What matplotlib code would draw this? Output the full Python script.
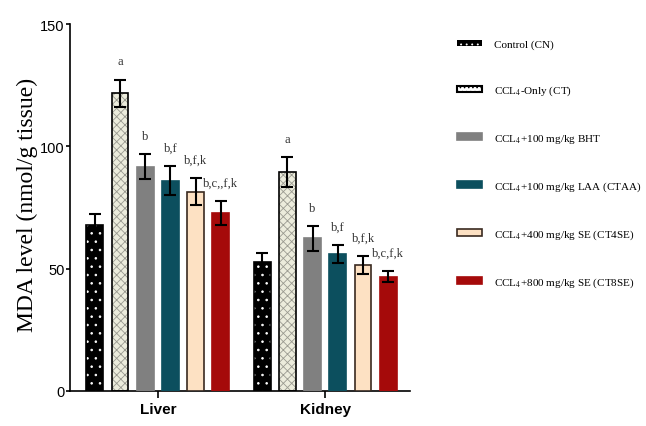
import matplotlib
matplotlib.use('Agg')
import matplotlib.pyplot as plt
import matplotlib.patches as mpatches
import numpy as np

plt.rcParams['mathtext.fontset'] = 'stix'
plt.rcParams['hatch.linewidth'] = 0.6

organs = ['Liver', 'Kidney']
groups = ['Control (CN)', 'CCL$_4$-Only (CT)', 'CCL$_4$+100 mg/kg BHT',
          'CCL$_4$+100 mg/kg LAA (CTAA)', 'CCL$_4$+400 mg/kg SE (CT4SE)',
          'CCL$_4$+800 mg/kg SE (CT8SE)']
liver = [67.8, 121.7, 91.8, 86.0, 81.5, 72.7]
liver_err = [4.5, 5.6, 5.2, 6.0, 5.5, 5.0]
kidney = [52.8, 89.5, 62.4, 56.0, 51.5, 46.7]
kidney_err = [3.5, 6.0, 5.0, 3.7, 3.8, 2.3]
liver_sig = ['', 'a', 'b', 'b,f', 'b,f,k', 'b,c,,f,k']
kidney_sig = ['', 'a', 'b', 'b,f', 'b,f,k', 'b,c,f,k']

faces = ['black', '#ececdc', '#808080', '#0c4f5e', '#fde1c3', '#a50a0a']
hatches = ['..', 'xxxx', None, None, None, None]
hatch_cols = ['white', '#9a9a90', None, None, None, None]
edges = ['black', 'black', '#808080', '#0c4f5e', '#3a2a20', '#a50a0a']

centers = np.array([0, 6.63])
width = 0.67
offsets = np.arange(6) - 2.5

fig = plt.figure(figsize=(6.46, 4.27), dpi=100)
ax = fig.add_axes([0.108, 0.082, 0.527, 0.859])

handles = []
for i in range(6):
    vals = [liver[i], kidney[i]]
    errs = [liver_err[i], kidney_err[i]]
    xs = centers + offsets[i]
    if hatches[i]:
        ax.bar(xs, vals, width, color=faces[i], edgecolor=hatch_cols[i],
               hatch=hatches[i], linewidth=0, zorder=2)
    ax.bar(xs, vals, width, facecolor=faces[i] if not hatches[i] else 'none',
           edgecolor=edges[i], linewidth=1.2, zorder=3)
    ax.errorbar(xs, vals, yerr=errs, fmt='none', ecolor='black', elinewidth=1.5,
                capsize=4, capthick=1.5, zorder=4)
    for x, v, e, s in zip(xs, vals, errs, [liver_sig[i], kidney_sig[i]]):
        if s:
            ax.text(x, v + e + 5, s, ha='center', va='bottom', fontsize=9,
                    family='Liberation Serif', color='#333333')
    # legend proxy
    if i == 0:
        handles.append(mpatches.Patch(facecolor='black', edgecolor='white',
                                      hatch='...', linewidth=0))
    elif i == 1:
        handles.append(mpatches.Patch(facecolor='white', edgecolor='black',
                                      hatch='....', linewidth=1.5))
    else:
        handles.append(mpatches.Patch(facecolor=faces[i], edgecolor=edges[i],
                                      linewidth=1.2))

ax.set_xlim(-3.49, 10.0)
ax.set_ylim(0, 150)
ax.set_yticks([0, 50, 100, 150])
ax.set_yticklabels(['0', '50', '100', '150'], family='Liberation Sans', fontsize=10.5)
ax.set_xticks(centers)
ax.set_xticklabels(organs, family='Liberation Sans', fontsize=11, fontweight='bold')
ax.tick_params(axis='y', direction='out', length=3, width=1.2, pad=0.8)
ax.tick_params(axis='x', direction='out', length=5, width=1.2, pad=3)
ax.spines['top'].set_visible(False)
ax.spines['right'].set_visible(False)
ax.spines['left'].set_linewidth(1.2)
ax.spines['bottom'].set_linewidth(1.2)
ax.set_ylabel('MDA level (nmol/g tissue)', family='Liberation Serif', fontsize=17)
ax.yaxis.set_label_coords(-0.093, 0.51)

fig.legend(handles, groups, loc='upper left', bbox_to_anchor=(0.692, 0.928),
           frameon=False, prop={'family': 'Liberation Serif', 'size': 8.0},
           handlelength=2.25, handleheight=0.54, labelspacing=3.1,
           handletextpad=1.05)

fig.savefig('out.png', dpi=100)
